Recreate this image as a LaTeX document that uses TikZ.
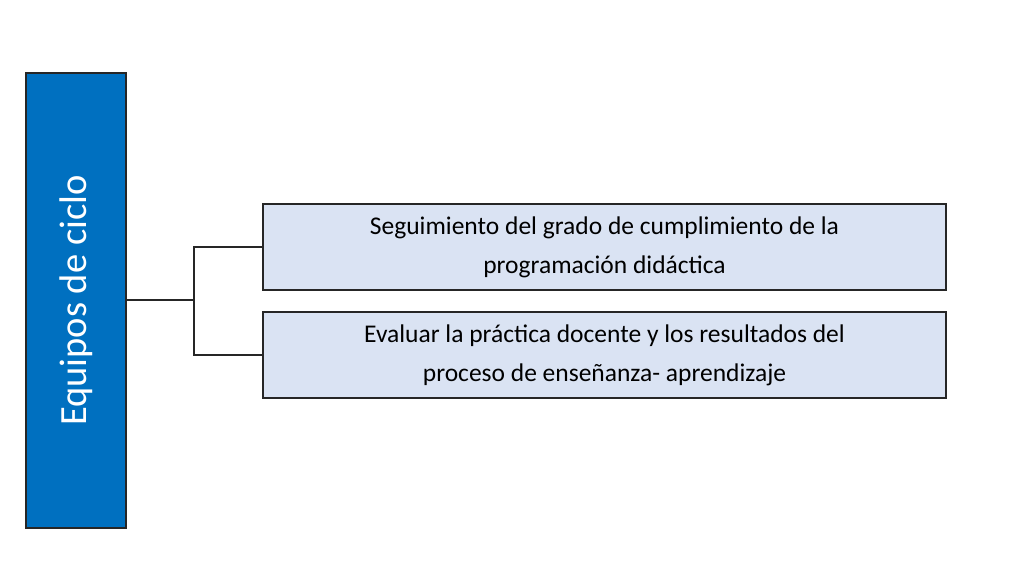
\documentclass[tikz,border=0pt]{standalone}
\usepackage{fontspec}
\setmainfont{Carlito}
\definecolor{mainblue}{HTML}{0070C0}
\definecolor{boxfill}{HTML}{DAE3F3}
\definecolor{edge}{HTML}{262626}
\begin{document}
\begin{tikzpicture}[x=1pt,y=-1pt,
  mainbox/.style={draw=edge, line width=1.3pt, fill=mainblue, minimum width=100pt, minimum height=455pt, inner sep=0pt},
  taskbox/.style={draw=edge, line width=1.3pt, fill=boxfill, minimum width=683pt, minimum height=86pt, align=center, font=\fontsize{25.5}{39}\selectfont, inner sep=0pt},
  conn/.style={draw=edge, line width=1.3pt}]
\useasboundingbox (0,0) rectangle (1024,576);
\node[mainbox] (m) at (76,300.5) {};
\node[rotate=90, text=white, font=\fontsize{38.5}{44}\selectfont] (mt) at (76,300.5) {Equipos de ciclo};
\node[taskbox] (a) at (604.5,247) {Seguimiento del grado de cumplimiento de la\\programación didáctica};
\node[taskbox] (b) at (604.5,355) {Evaluar la práctica docente y los resultados del\\proceso de enseñanza- aprendizaje};
\coordinate (j) at (194,300);
\draw[conn] (m.east |- j) -- (j);
\draw[conn] (j) |- (a.west);
\draw[conn] (j) |- (b.west);
\end{tikzpicture}
\end{document}
